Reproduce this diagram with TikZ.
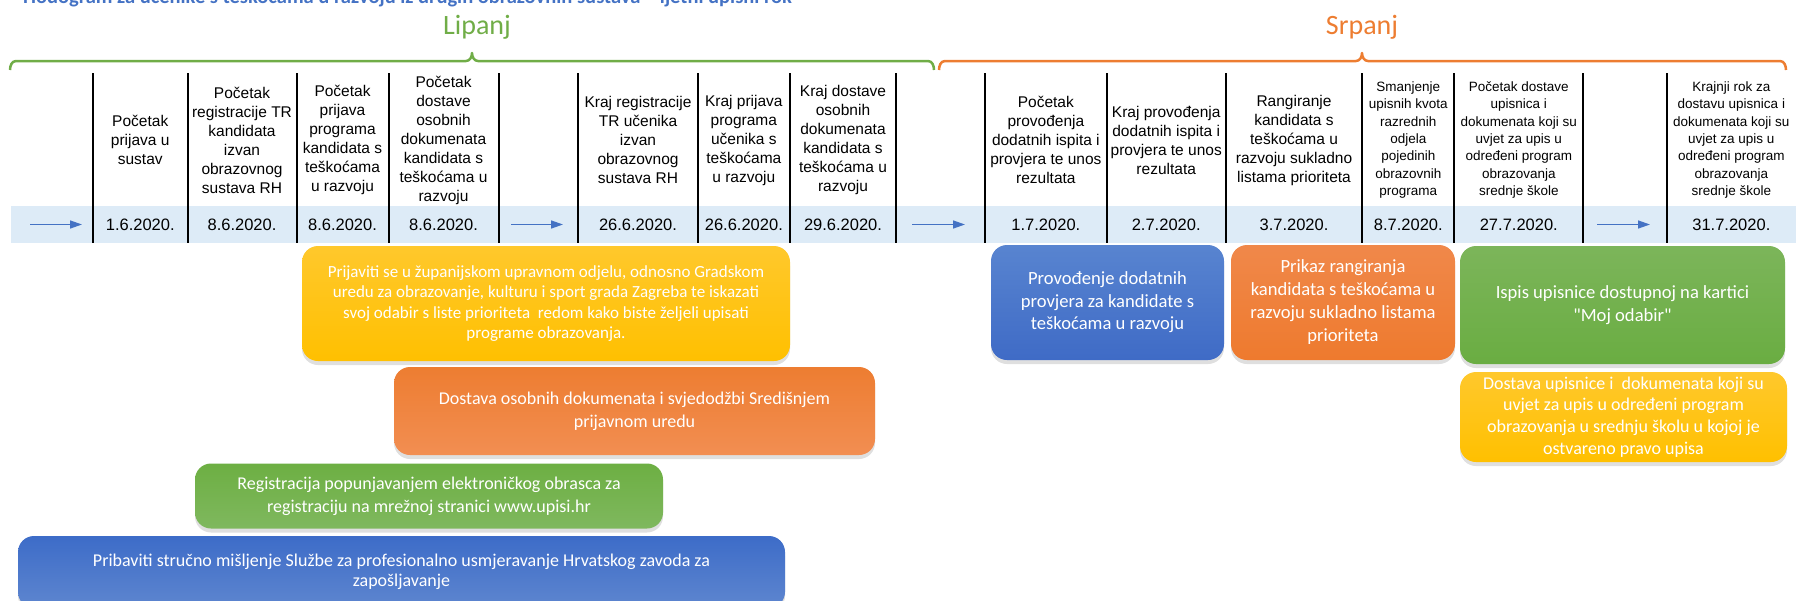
\documentclass[tikz,border=0pt]{standalone}
\usepackage{fontspec}
\setmainfont{Liberation Sans}
\newfontfamily\calfont{Carlito}
\usetikzlibrary{arrows.meta,shadows}
\definecolor{cgreen}{HTML}{70AD47}
\definecolor{corange}{HTML}{ED7D31}
\definecolor{cblue}{HTML}{4472C4}
\definecolor{bandcol}{HTML}{DDEBF7}
\begin{document}
\begin{tikzpicture}[x=1pt,y=-1pt,
  hdr/.style={inner sep=0pt, align=center, font=\fontsize{15.5}{19}\selectfont},
  hdrs/.style={inner sep=0pt, align=center, font=\fontsize{13.5}{17.4}\selectfont},
  datecell/.style={inner sep=0pt, font=\fontsize{16.5}{19}\selectfont},
  colline/.style={line width=2pt, black},
  bandarrow/.style={cblue, line width=1.4pt, -{Triangle[length=12pt,width=8pt]}},
  brace/.style={line width=2.5pt, line join=round},
  month/.style={inner sep=0pt, font=\calfont\fontsize{28}{30}\selectfont},
  box/.style={rounded corners=16pt, inner sep=0pt, align=center, text=white,
    drop shadow={shadow xshift=0pt, shadow yshift=-4pt, opacity=0.25}},
]
\useasboundingbox (0,0) rectangle (1796,600);
\clip (0,0) rectangle (1796,600);

% title (cut at the top)
\node[anchor=base west, inner sep=0pt, text=cblue, font=\calfont\bfseries\fontsize{20.5}{22}\selectfont] (title) at (23,3.5)
  {Hodogram za učenike s teškoćama u razvoju iz drugih obrazovnih sustava – ljetni upisni rok};

% months
\node[month, text=cgreen] (lipanj) at (477,27) {Lipanj};
\node[month, text=corange] (srpanj) at (1362,27) {Srpanj};

% braces
\draw[brace, cgreen] (10,70) to[out=90,in=180] (16,61) -- (466,61) to[out=0,in=270] (472,53)
  to[out=270,in=180] (478,61) -- (928,61) to[out=0,in=90] (934,70);
\draw[brace, corange] (939,70) to[out=90,in=180] (945,61) -- (1356,61) to[out=0,in=270] (1362,53)
  to[out=270,in=180] (1368,61) -- (1780,61) to[out=0,in=90] (1786,70);

% band
\fill[bandcol] (11,206) rectangle (1796,243);

% column lines
\foreach \x in {93,187.5,296.5,388.5,498.5,578.3,697.7,790,896,985,1106.7,1225.7,1362.3,1454.3,1583.3,1666.7}
  \draw[colline] (\x,73) -- (\x,243);

% headers
\node[hdr] (h2) at (140.25,140) {Početak\\prijava u\\sustav};
\node[hdr] (h3) at (242,140) {Početak\\registracije TR\\kandidata\\izvan\\obrazovnog\\sustava RH};
\node[hdr] (h4) at (342.5,140) {Početak\\prijava\\programa\\kandidata s\\teškoćama\\u razvoju};
\node[hdr] (h5) at (443.5,140) {Početak\\dostave\\osobnih\\dokumenata\\kandidata s\\teškoćama u\\razvoju};
\node[hdr] (h7) at (638,140) {Kraj registracije\\TR učenika\\izvan\\obrazovnog\\sustava RH};
\node[hdr] (h8) at (743.85,140) {Kraj prijava\\programa\\učenika s\\teškoćama\\u razvoju};
\node[hdr] (h9) at (843,140) {Kraj dostave\\osobnih\\dokumenata\\kandidata s\\teškoćama u\\razvoju};
\node[hdr] (h11) at (1045.85,140) {Početak\\provođenja\\dodatnih ispita i\\provjera te unos\\rezultata};
\node[hdr] (h12) at (1166.2,140) {Kraj provođenja\\dodatnih ispita i\\provjera te unos\\rezultata};
\node[hdr] (h13) at (1294,140) {Rangiranje\\kandidata s\\teškoćama u\\razvoju sukladno\\listama prioriteta};
\node[hdrs] (h14) at (1408.3,140) {Smanjenje\\upisnih kvota\\razrednih\\odjela\\pojedinih\\obrazovnih\\programa};
\node[hdrs] (h15) at (1518.8,140) {Početak dostave\\upisnica i\\dokumenata koji su\\uvjet za upis u\\određeni program\\obrazovanja\\srednje škole};
\node[hdrs] (h17) at (1731.35,140) {Krajnji rok za\\dostavu upisnica i\\dokumenata koji su\\uvjet za upis u\\određeni program\\obrazovanja\\srednje škole};

% dates
\node[datecell] (d2) at (140.25,224.5) {1.6.2020.};
\node[datecell] (d3) at (242,224.5) {8.6.2020.};
\node[datecell] (d4) at (342.5,224.5) {8.6.2020.};
\node[datecell] (d5) at (443.5,224.5) {8.6.2020.};
\node[datecell] (d7) at (638,224.5) {26.6.2020.};
\node[datecell] (d8) at (743.85,224.5) {26.6.2020.};
\node[datecell] (d9) at (843,224.5) {29.6.2020.};
\node[datecell] (d11) at (1045.85,224.5) {1.7.2020.};
\node[datecell] (d12) at (1166.2,224.5) {2.7.2020.};
\node[datecell] (d13) at (1294,224.5) {3.7.2020.};
\node[datecell] (d14) at (1408.3,224.5) {8.7.2020.};
\node[datecell] (d15) at (1518.8,224.5) {27.7.2020.};
\node[datecell] (d17) at (1731.35,224.5) {31.7.2020.};

% band arrows
\coordinate (a1s) at (30,224.5);   \coordinate (a1e) at (82,224.5);
\coordinate (a6s) at (511,224.5);  \coordinate (a6e) at (563,224.5);
\coordinate (a10s) at (912,224.5); \coordinate (a10e) at (965,224.5);
\coordinate (a16s) at (1597,224.5);\coordinate (a16e) at (1650,224.5);
\draw[bandarrow] (a1s) -- (a1e);
\draw[bandarrow] (a6s) -- (a6e);
\draw[bandarrow] (a10s) -- (a10e);
\draw[bandarrow] (a16s) -- (a16e);

% boxes
\node[box, minimum width=488pt, minimum height=115pt, top color={rgb,255:red,255;green,200;blue,44}, bottom color={rgb,255:red,255;green,192;blue,0},
  font=\calfont\fontsize{17}{20.5}\selectfont] (y1) at (546,303.5)
  {Prijaviti se u županijskom upravnom odjelu, odnosno Gradskom\\uredu za obrazovanje, kulturu i sport grada Zagreba te iskazati\\svoj odabir s liste prioriteta \ redom kako biste željeli upisati\\programe obrazovanja.};
\node[box, minimum width=481pt, minimum height=88pt, top color={rgb,255:red,237;green,125;blue,49}, bottom color={rgb,255:red,242;green,142;blue,82},
  font=\calfont\fontsize{18}{23}\selectfont] (o1) at (634.5,411)
  {Dostava osobnih dokumenata i svjedodžbi Središnjem\\prijavnom uredu};
\node[box, minimum width=468pt, minimum height=65pt, top color={rgb,255:red,109;green,175;blue,67}, bottom color={rgb,255:red,127;green,184;blue,94},
  font=\calfont\fontsize{18}{23}\selectfont] (g1) at (429,496)
  {Registracija popunjavanjem elektroničkog obrasca za\\registraciju na mrežnoj stranici www.upisi.hr};
\node[box, minimum width=767pt, minimum height=72pt, top color={rgb,255:red,61;green,108;blue,200}, bottom color={rgb,255:red,94;green,134;blue,207},
  font=\calfont\fontsize{18}{20}\selectfont] (b1) at (401.5,572)
  {Pribaviti stručno mišljenje Službe za profesionalno usmjeravanje Hrvatskog zavoda za\\zapošljavanje};
\node[box, minimum width=233pt, minimum height=115pt, top color={rgb,255:red,88;green,132;blue,208}, bottom color={rgb,255:red,63;green,107;blue,198},
  font=\calfont\fontsize{18.6}{22.5}\selectfont] (b2) at (1107.5,302.5)
  {Provođenje dodatnih\\provjera za kandidate s\\teškoćama u razvoju};
\node[box, minimum width=224pt, minimum height=115pt, top color={rgb,255:red,240;green,136;blue,74}, bottom color={rgb,255:red,238;green,122;blue,46},
  font=\calfont\fontsize{18.6}{23}\selectfont] (o2) at (1343,302.5)
  {Prikaz rangiranja\\kandidata s teškoćama u\\razvoju sukladno listama\\prioriteta};
\node[box, minimum width=325pt, minimum height=118pt, top color={rgb,255:red,124;green,181;blue,90}, bottom color={rgb,255:red,106;green,173;blue,66},
  font=\calfont\fontsize{18.6}{21.7}\selectfont] (g2) at (1622.5,305)
  {Ispis upisnice dostupnoj na kartici\\[2pt]"Moj odabir"};
\node[box, minimum width=327pt, minimum height=90pt, top color={rgb,255:red,255;green,200;blue,44}, bottom color={rgb,255:red,255;green,192;blue,0},
  font=\calfont\fontsize{18}{21.7}\selectfont] (y2) at (1623.5,417)
  {Dostava upisnice i \ dokumenata koji su\\uvjet za upis u određeni program\\obrazovanja u srednju školu u kojoj je\\ostvareno pravo upisa};
\end{tikzpicture}
\end{document}
